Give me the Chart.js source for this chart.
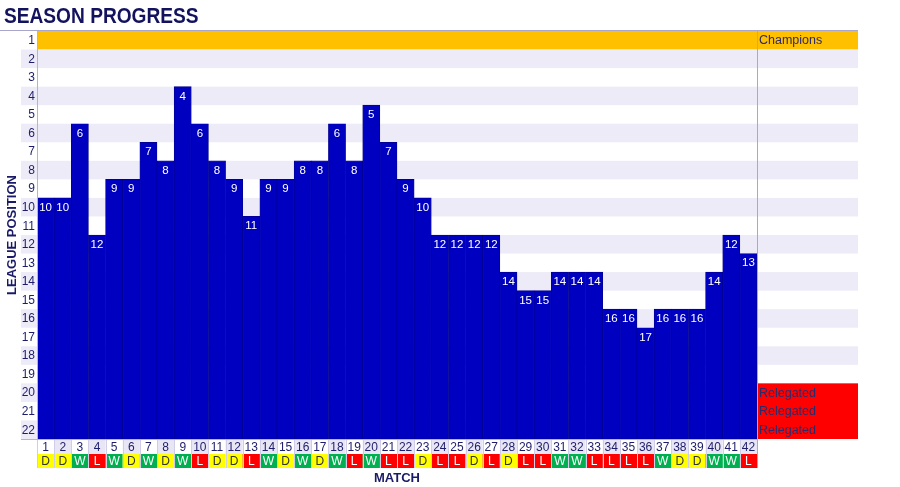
<!DOCTYPE html>
<html><head><meta charset="utf-8">
<script src="https://cdn.jsdelivr.net/npm/chart.js@4/dist/chart.umd.min.js"></script>
<style>html,body{margin:0;padding:0;background:#fff}#wrap{width:900px;height:487px}</style>
</head><body><div id="wrap"><canvas id="c" width="900" height="487"></canvas></div>
<script>
const matches = ['1','2','3','4','5','6','7','8','9','10','11','12','13','14','15','16','17','18','19','20','21','22','23','24','25','26','27','28','29','30','31','32','33','34','35','36','37','38','39','40','41','42'];
const positions = [10,10,6,12,9,9,7,8,4,6,8,9,11,9,9,8,8,6,8,5,7,9,10,12,12,12,12,14,15,15,14,14,14,16,16,17,16,16,16,14,12,13];
const results = ['D','D','W','L','W','D','W','D','W','L','D','D','L','W','D','W','D','W','L','W','L','L','D','L','L','D','L','D','L','L','W','W','L','L','L','L','W','D','D','W','W','L'];
const positionTicks = [1,2,3,4,5,6,7,8,9,10,11,12,13,14,15,16,17,18,19,20,21,22];
const noteRows = [1,20,21,22];
const noteTexts = ['Champions','Relegated','Relegated','Relegated'];

const NAVY = '#1d1d6b';
const FONT = '"Liberation Sans", Arial, sans-serif';
const resultFill = {W:'#00b050', D:'#ffff00', L:'#ff0000'};
const resultText = {W:'#ffffff', D:'#333333', L:'#ffffff'};

const deco = {
  id: 'deco',
  beforeDatasetsDraw(chart) {
    const {ctx, chartArea: ca, scales: {y}} = chart;
    const rightEdge = 858, leftBand = 21;
    ctx.save();
    positionTicks.forEach(p => {
      const t = y.getPixelForValue(p - 0.5), b = y.getPixelForValue(p + 0.5);
      if (p === 1) {
        ctx.fillStyle = '#ffc000';
        ctx.fillRect(ca.left, t, rightEdge - ca.left, b - t);
      } else if (p % 2 === 0) {
        ctx.fillStyle = '#edebf7';
        ctx.fillRect(leftBand, t, rightEdge - leftBand, b - t);
      }
    });
    const rt = y.getPixelForValue(19.5), rb = y.getPixelForValue(22.5);
    ctx.fillStyle = '#ff0000';
    ctx.fillRect(ca.right, rt, rightEdge - ca.right, rb - rt);
    ctx.restore();
  },
  afterDatasetsDraw(chart) {
    const {ctx, chartArea: ca, scales: {x, y}} = chart;
    const rightEdge = 858;
    ctx.save();
    ctx.font = '11.5px ' + FONT;
    ctx.fillStyle = '#ffffff';
    ctx.textAlign = 'center';
    ctx.textBaseline = 'middle';
    positions.forEach((p, i) => {
      ctx.fillText(String(p), x.getPixelForValue(i), y.getPixelForValue(p) + 0.5);
    });
    ctx.fillStyle = NAVY;
    ctx.font = '12px ' + FONT;
    ctx.textAlign = 'right';
    positionTicks.forEach(p => ctx.fillText(String(p), 35, y.getPixelForValue(p) + 0.5));
    ctx.textAlign = 'left';
    ctx.font = '12.5px ' + FONT;
    ctx.fillStyle = '#2b2b6b';
    noteRows.forEach((r, i) => ctx.fillText(noteTexts[i], ca.right + 2, y.getPixelForValue(r) + 0.5));
    ctx.lineWidth = 1;
    ctx.strokeStyle = '#a8a6cc';
    ctx.beginPath(); ctx.moveTo(0, Math.round(ca.top) - 0.5); ctx.lineTo(rightEdge, Math.round(ca.top) - 0.5); ctx.stroke();
    ctx.strokeStyle = '#b4b1de';
    ctx.beginPath(); ctx.moveTo(Math.round(ca.left) + 0.5, ca.top); ctx.lineTo(Math.round(ca.left) + 0.5, ca.bottom); ctx.stroke();
    ctx.beginPath(); ctx.moveTo(21, Math.round(ca.bottom) + 0.5); ctx.lineTo(ca.right, Math.round(ca.bottom) + 0.5); ctx.stroke();
    const w = (ca.right - ca.left) / matches.length;
    const r1t = ca.bottom + 1, r1b = ca.bottom + 15, r2b = ca.bottom + 29;
    matches.forEach((m, i) => {
      const cx = x.getPixelForValue(i), l = cx - w / 2;
      if (i % 2 === 1) { ctx.fillStyle = '#e8e6f5'; ctx.fillRect(l, r1t, w, r1b - r1t); }
      ctx.fillStyle = resultFill[results[i]];
      ctx.fillRect(l, r1b, w, r2b - r1b);
      ctx.strokeStyle = '#cfcde8';
      ctx.beginPath(); ctx.moveTo(Math.round(l) + 0.5, r1t); ctx.lineTo(Math.round(l) + 0.5, r2b); ctx.stroke();
      ctx.textAlign = 'center';
      ctx.font = '12px ' + FONT;
      ctx.fillStyle = NAVY;
      ctx.fillText(m, cx, (r1t + r1b) / 2 + 1);
      ctx.fillStyle = resultText[results[i]];
      ctx.fillText(results[i], cx, (r1b + r2b) / 2 + 1);
    });
    ctx.strokeStyle = '#a9a6d6';
    ctx.beginPath(); ctx.moveTo(Math.round(ca.right) + 0.5, ca.top - 1); ctx.lineTo(Math.round(ca.right) + 0.5, r2b); ctx.stroke();
    ctx.fillStyle = '#1a1a66';
    ctx.font = 'bold 13px ' + FONT;
    ctx.textAlign = 'center';
    ctx.textBaseline = 'middle';
    ctx.fillText('MATCH', (ca.left + ca.right) / 2, 478);
    ctx.save();
    ctx.translate(12, 235);
    ctx.rotate(-Math.PI / 2);
    ctx.fillText('LEAGUE POSITION', 0, 0);
    ctx.restore();
    ctx.fillStyle = '#12125e';
    ctx.textAlign = 'left';
    ctx.textBaseline = 'alphabetic';
    ctx.font = 'bold 22px ' + FONT;
    ctx.translate(4, 23);
    ctx.scale(0.87, 1);
    ctx.fillText('SEASON PROGRESS', 0, 0);
    ctx.restore();
  }
};

new Chart(document.getElementById('c'), {
  type: 'bar',
  data: {
    labels: matches,
    datasets: [{
      data: positions.map(p => [p - 0.5, 22.5]),
      backgroundColor: '#0000c0',
      borderColor: '#00008c',
      borderWidth: 0.7,
      borderSkipped: false,
      barPercentage: 1,
      categoryPercentage: 1
    }]
  },
  options: {
    responsive: false,
    devicePixelRatio: 1,
    animation: false,
    layout: {padding: {left: 37, right: 143, top: 31, bottom: 48}},
    plugins: {legend: {display: false}, tooltip: {enabled: false}, title: {display: false}},
    scales: {
      x: {display: false, offset: true},
      y: {display: false, reverse: true, min: 0.5, max: 22.5}
    }
  },
  plugins: [deco]
});
</script></body></html>
